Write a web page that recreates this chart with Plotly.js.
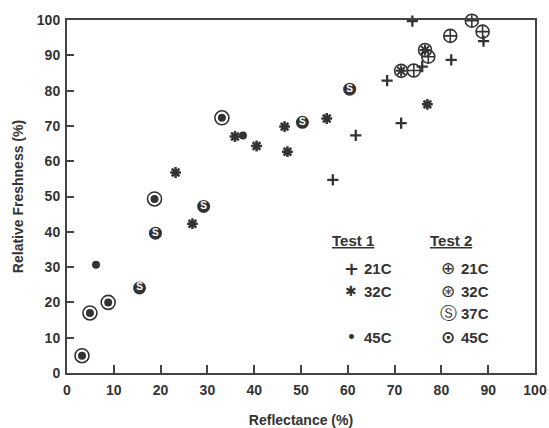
<!DOCTYPE html>
<html>
<head>
<meta charset="utf-8">
<script src="https://cdn.plot.ly/plotly-3.0.1.min.js"></script>
<style>html,body{margin:0;padding:0;background:#fff;}</style>
</head>
<body>
<div id="chart" style="width:549px;height:428px;"></div>
<script>
// Test 1
var t1_21_x = [73.8, 89.0, 82.1, 75.9, 68.4, 71.4, 61.7, 56.8];
var t1_21_y = [99.7, 94.0, 88.7, 86.8, 82.8, 70.8, 67.3, 54.7];
var t1_32_x = [23.2, 26.8, 35.9, 40.5, 46.5, 47.1, 55.5, 77.0];
var t1_32_y = [56.8, 42.3, 67.0, 64.3, 69.8, 62.7, 72.1, 76.1];
var t1_45_x = [6.2, 37.6];
var t1_45_y = [30.7, 67.3];
// Test 2
var t2_21_x = [86.5, 88.8, 81.9, 77.2, 74.1];
var t2_21_y = [99.8, 96.7, 95.5, 89.6, 85.7];
var t2_32_x = [76.5, 71.4];
var t2_32_y = [91.5, 85.6];
var t2_37_x = [60.4, 50.3, 29.2, 18.9, 15.5];
var t2_37_y = [80.4, 71.0, 47.2, 39.6, 24.1];
var t2_45_x = [33.1, 18.7, 8.8, 4.9, 3.2];
var t2_45_y = [72.3, 49.3, 20.0, 17.0, 4.9];

var ticks = [0, 10, 20, 30, 40, 50, 60, 70, 80, 90, 100];
var xTitle = 'Reflectance (%)';
var yTitle = 'Relative Freshness (%)';
var legendHeads = ['<u>Test 1</u>', '<u>Test 2</u>'];
var legend1Sym = ['+', '\u2731', '\u2022'];
var legend1Lab = ['21C', '32C', '45C'];
var legend2Sym = ['\u2295', '\u229B', '\u24C8', '\u2299'];
var legend2Lab = ['21C', '32C', '37C', '45C'];

var INK = '#333333';
var FONT = 'Liberation Sans, Arial, sans-serif';

var traces = [
  {x: t1_21_x, y: t1_21_y, mode: 'markers', cliponaxis: false,
   marker: {symbol: 'cross-thin', size: 8, line: {color: INK, width: 2.3}}},
  {x: t1_32_x, y: t1_32_y, mode: 'markers', cliponaxis: false,
   marker: {symbol: 'asterisk', size: 9, line: {color: INK, width: 2.5}}},
  {x: t1_45_x, y: t1_45_y, mode: 'markers', cliponaxis: false,
   marker: {symbol: 'circle', size: 8, color: INK}},
  {x: t2_21_x, y: t2_21_y, mode: 'markers', cliponaxis: false,
   marker: {symbol: 'circle-cross-open', size: 13, color: INK, line: {color: INK, width: 1.6}}},
  {x: t2_32_x, y: t2_32_y, mode: 'markers', cliponaxis: false,
   marker: {symbol: 'circle-open', size: 13, color: INK, line: {color: INK, width: 1.6}}},
  {x: t2_32_x, y: t2_32_y, mode: 'markers', cliponaxis: false,
   marker: {symbol: 'asterisk', size: 9, line: {color: INK, width: 2}}},
  {x: t2_37_x, y: t2_37_y, mode: 'markers+text', cliponaxis: false,
   text: t2_37_x.map(function(){return '<b>S</b>';}), textposition: 'middle center',
   textfont: {family: FONT, size: 10, color: '#ffffff'},
   marker: {symbol: 'circle', size: 13, color: INK}},
  {x: t2_45_x, y: t2_45_y, mode: 'markers', cliponaxis: false,
   marker: {symbol: 'circle-open', size: 14, color: INK, line: {color: INK, width: 1.6}}},
  {x: t2_45_x, y: t2_45_y, mode: 'markers', cliponaxis: false,
   marker: {symbol: 'circle', size: 8, color: INK}}
];

function px2x(px) { return (px - 67) / 468; }
function py2y(py) { return (373 - py) / 353; }

var annotations = [];
var headFont = {family: FONT, size: 15, color: INK, weight: 'bold'};
annotations.push({xref: 'paper', yref: 'paper', x: px2x(330), y: py2y(240), xanchor: 'left', yanchor: 'middle',
  text: legendHeads[0], showarrow: false, font: headFont});
annotations.push({xref: 'paper', yref: 'paper', x: px2x(428), y: py2y(240), xanchor: 'left', yanchor: 'middle',
  text: legendHeads[1], showarrow: false, font: headFont});
var rows1 = [268, 291, 337];
var rows2 = [268, 291, 313, 337];
for (var i = 0; i < legend1Sym.length; i++) {
  annotations.push({xref: 'paper', yref: 'paper', x: px2x(351), y: py2y(rows1[i]), xanchor: 'center', yanchor: 'middle',
    text: legend1Sym[i], showarrow: false, font: {family: 'DejaVu Sans', size: i === 0 ? 18 : 14, color: INK, weight: 'bold'}});
  annotations.push({xref: 'paper', yref: 'paper', x: px2x(362), y: py2y(rows1[i]), xanchor: 'left', yanchor: 'middle',
    text: legend1Lab[i], showarrow: false, font: headFont});
}
for (var j = 0; j < legend2Sym.length; j++) {
  annotations.push({xref: 'paper', yref: 'paper', x: px2x(448), y: py2y(rows2[j]), xanchor: 'center', yanchor: 'middle',
    text: legend2Sym[j], showarrow: false,
    font: {family: 'DejaVu Sans', size: 17, color: INK, weight: j === 3 ? 'bold' : 'normal'}});
  annotations.push({xref: 'paper', yref: 'paper', x: px2x(459), y: py2y(rows2[j]), xanchor: 'left', yanchor: 'middle',
    text: legend2Lab[j], showarrow: false, font: headFont});
}

var axisCommon = {
  range: [0, 100], tickvals: ticks, ticktext: ticks.map(String),
  ticks: 'inside', tickwidth: 2, tickcolor: '#444',
  showline: true, linewidth: 2, linecolor: '#444', mirror: true,
  showgrid: false, zeroline: false, fixedrange: true,
  tickfont: {family: FONT, size: 14, color: INK, weight: 'bold'}
};

var layout = {
  width: 549, height: 428,
  margin: {l: 67, r: 14, t: 20, b: 55},
  paper_bgcolor: '#ffffff', plot_bgcolor: '#ffffff',
  showlegend: false,
  xaxis: Object.assign({}, axisCommon, {ticklen: 8, ticklabelstandoff: 3,
    title: {text: xTitle, standoff: 18, font: {family: FONT, size: 14, color: INK, weight: 'bold'}}}),
  yaxis: Object.assign({}, axisCommon, {ticklen: 7, ticklabelstandoff: 2,
    title: {text: yTitle, standoff: 10, font: {family: FONT, size: 14, color: INK, weight: 'bold'}}}),
  annotations: annotations
};

Plotly.newPlot('chart', traces, layout, {displayModeBar: false, staticPlot: true});
</script>
</body>
</html>
